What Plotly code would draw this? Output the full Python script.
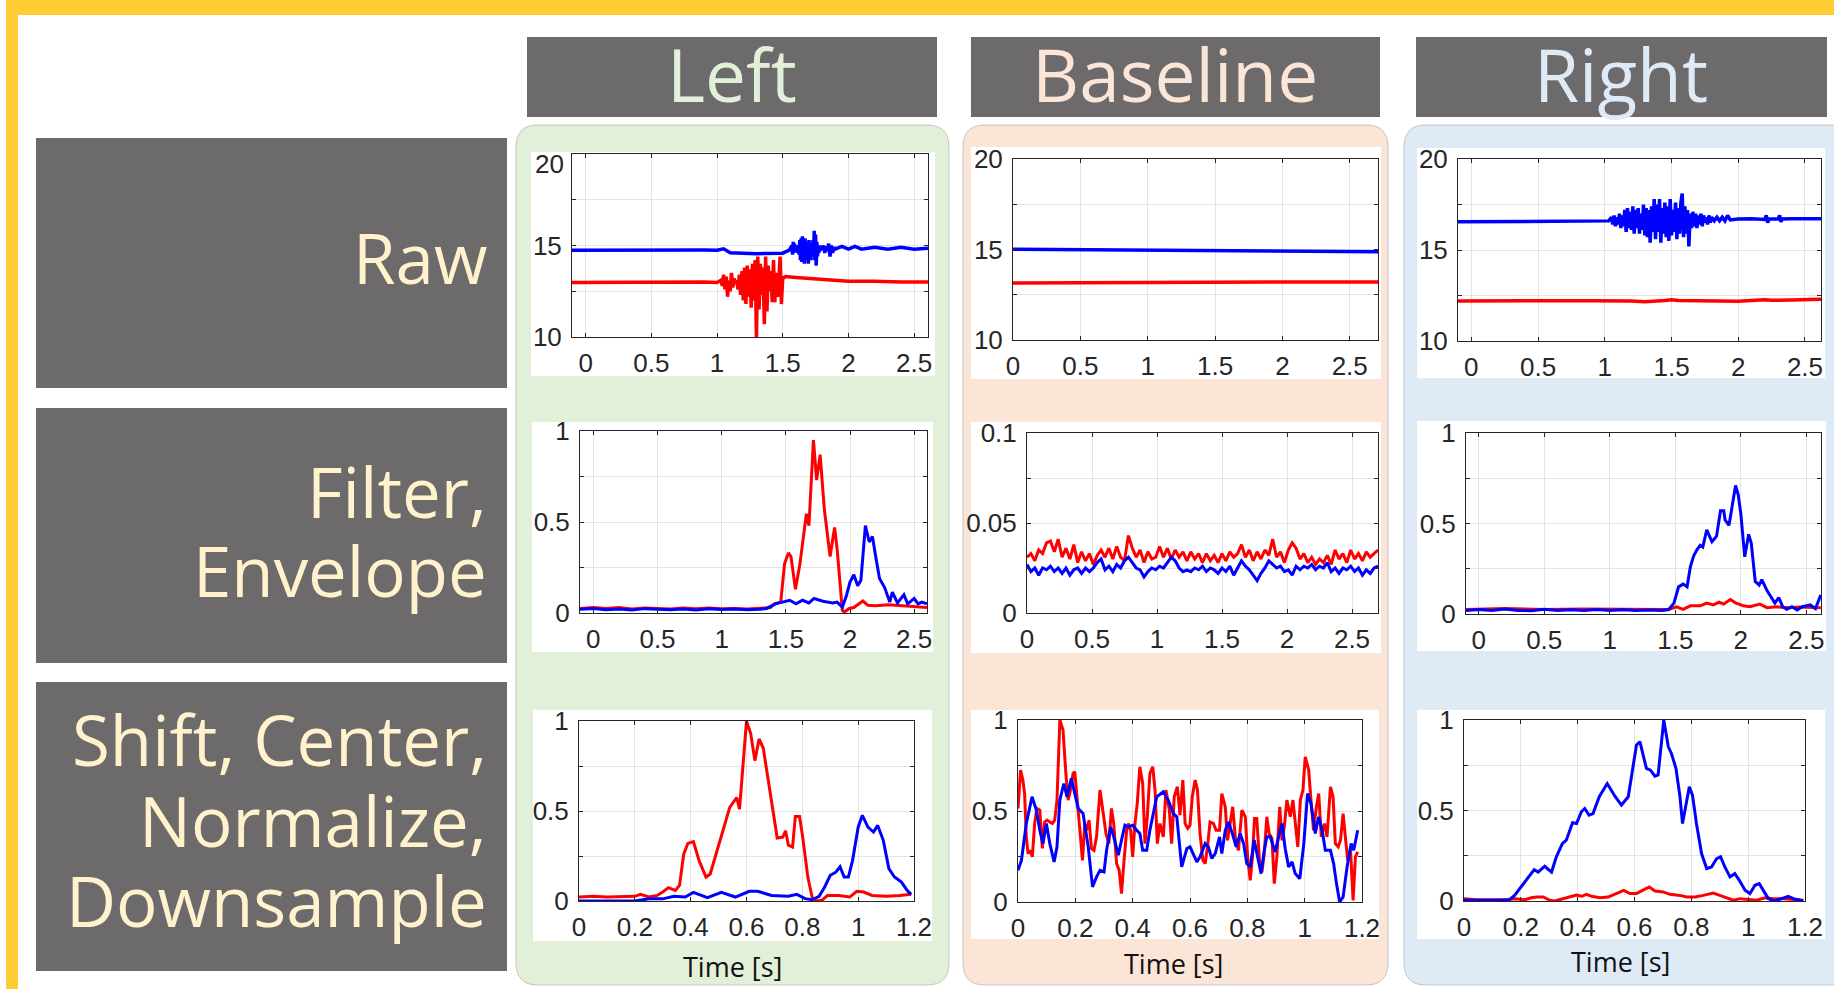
import plotly.graph_objects as go

W, H = 1834, 989

# ---------------- DATA ----------------
col_titles = ["Left", "Baseline", "Right"]
row_lines = [["Raw"], ["Filter,", "Envelope"], ["Shift, Center,", "Normalize,", "Downsample"]]
time_label = "Time [s]"

# Raw - Left
raw_L_blue_t = [-0.104, 0.3, 0.6, 0.9, 1.0, 1.05, 1.1, 1.3, 1.5, 1.55,
                1.57, 1.575, 1.58, 1.585, 1.59, 1.595, 1.6, 1.605, 1.61, 1.615,
                1.62, 1.625, 1.63, 1.635, 1.64, 1.645, 1.65, 1.655, 1.66, 1.665,
                1.67, 1.675, 1.68, 1.685, 1.69, 1.695, 1.7, 1.705, 1.71, 1.715,
                1.72, 1.725, 1.73, 1.735, 1.74, 1.745, 1.75, 1.755, 1.76, 1.765,
                1.77, 1.775, 1.78, 1.785, 1.79,
                1.8, 1.81, 1.82, 1.83, 1.84, 1.85, 1.86, 1.87, 1.88, 1.89, 1.9,
                1.95, 2.0, 2.05, 2.1, 2.2, 2.3, 2.4, 2.5, 2.606]
raw_L_blue_v = [14.74, 14.76, 14.74, 14.75, 14.74, 14.82, 14.6, 14.55, 14.58, 14.75,
                15.0, 14.5, 15.2, 14.6, 15.1, 14.7, 15.0, 14.8, 14.9, 14.6,
                15.0, 14.5, 15.3, 14.2, 15.4, 14.1, 15.5, 14.3, 15.3, 14.0,
                15.4, 14.2, 15.2, 14.4, 15.1, 14.0, 15.3, 14.3, 15.0, 14.2,
                15.1, 14.4, 15.3, 14.5, 15.8, 14.2, 15.6, 13.9, 15.2, 14.4,
                15.0, 14.6, 15.0, 14.7, 14.9,
                14.8, 15.0, 14.6, 14.95, 14.7, 15.1, 14.4, 15.0, 14.6, 14.9, 14.8,
                14.95, 14.8, 14.95, 14.8, 14.9, 14.8, 14.9, 14.8, 14.85]
raw_L_red_t = [-0.104, 0.3, 0.6, 0.9, 1.0,
               1.03, 1.04, 1.05, 1.06, 1.07, 1.08, 1.09, 1.10, 1.11, 1.12,
               1.13, 1.14, 1.15, 1.16, 1.17, 1.18, 1.19, 1.20, 1.21, 1.22,
               1.23, 1.24, 1.25, 1.26, 1.27, 1.28, 1.29, 1.30, 1.31, 1.32,
               1.33, 1.34, 1.35, 1.36, 1.37, 1.38, 1.39, 1.40, 1.41, 1.42,
               1.43, 1.44, 1.45, 1.46, 1.47, 1.48, 1.49, 1.50,
               1.52, 1.6, 1.7, 1.8, 1.9, 2.0, 2.2, 2.4, 2.606]
raw_L_red_v = [12.98, 13.0, 12.97, 13.0, 12.98,
               13.1, 12.8, 13.4, 12.6, 13.3, 12.2, 13.1, 12.5, 13.5, 12.7,
               13.2, 12.9, 13.1, 12.6, 13.4, 12.3, 13.6, 12.0, 13.8, 11.8,
               13.9, 12.2, 13.7, 11.6, 14.0, 12.0, 14.2, 10.0, 14.4, 11.5,
               14.0, 12.3, 13.8, 10.7, 14.4, 11.4, 13.9, 12.5, 13.6, 11.9,
               14.2, 11.9, 13.5, 12.2, 13.0, 14.4, 11.8, 13.2,
               13.3, 13.25, 13.2, 13.18, 13.1, 13.05, 13.05, 13.0, 13.0]

# Raw - Baseline
raw_B_t = [0.0, 0.5, 1.0, 1.5, 2.0, 2.5, 2.71]
raw_B_blue_v = [15.02, 15.0, 14.95, 14.92, 14.9, 14.88, 14.87]
raw_B_red_v = [13.15, 13.17, 13.18, 13.2, 13.2, 13.2, 13.2]

# Raw - Right
raw_R_blue_t = [-0.1, 0.3, 0.6, 0.9, 1.0,
                1.03, 1.04, 1.05, 1.06, 1.07, 1.08, 1.09, 1.10, 1.11, 1.12,
                1.13, 1.14, 1.15, 1.16, 1.17, 1.18, 1.19, 1.20, 1.21, 1.22,
                1.23, 1.24, 1.25, 1.26, 1.27, 1.28, 1.29, 1.30, 1.31, 1.32,
                1.33, 1.34, 1.35, 1.36, 1.37, 1.38, 1.39, 1.40, 1.41, 1.42,
                1.43, 1.44, 1.45, 1.46, 1.47, 1.48, 1.49, 1.50, 1.51, 1.52,
                1.53, 1.54, 1.55, 1.56, 1.57, 1.58, 1.59, 1.60, 1.61, 1.62,
                1.63, 1.64, 1.65, 1.66, 1.67, 1.68, 1.69, 1.70, 1.71, 1.72,
                1.73, 1.74, 1.75, 1.76, 1.77, 1.78, 1.79, 1.80,
                1.82, 1.84, 1.86, 1.88, 1.90, 1.92, 1.94,
                2.0, 2.1, 2.2, 2.21, 2.22, 2.23, 2.3, 2.31, 2.32, 2.33, 2.4, 2.5, 2.62]
raw_R_blue_v = [16.55, 16.57, 16.58, 16.6, 16.6,
                16.6, 16.7, 16.8, 16.4, 16.9, 16.3, 16.8, 16.4, 17.0, 16.2,
                16.9, 16.3, 17.2, 16.0, 17.3, 16.2, 17.1, 16.1, 17.4, 15.9,
                17.2, 16.2, 17.3, 15.9, 17.0, 16.1, 17.5, 15.8, 17.3, 15.7,
                17.2, 15.4, 17.4, 16.0, 17.8, 15.6, 17.5, 16.0, 17.8, 15.4,
                17.3, 15.9, 17.6, 15.7, 17.4, 15.5, 17.8, 15.8, 17.2, 16.0,
                17.6, 15.6, 17.3, 15.9, 17.6, 18.1, 15.7, 17.4, 15.9, 17.2,
                15.2, 17.0, 16.2, 17.1, 16.3, 17.0, 16.2, 16.9, 16.4, 17.0,
                16.3, 16.9, 16.5, 16.8, 16.4, 16.9, 16.5, 16.8,
                16.6, 16.8, 16.6, 16.8, 16.6, 16.9, 16.65,
                16.7, 16.72, 16.68, 16.9, 16.5, 16.7, 16.72, 16.9, 16.55, 16.7, 16.72, 16.7, 16.72]
raw_R_red_t = [-0.1, 0.3, 0.6, 0.9, 1.2, 1.3, 1.45, 1.5, 1.55, 1.8, 2.0, 2.2, 2.25, 2.4, 2.5, 2.62]
raw_R_red_v = [12.2, 12.22, 12.2, 12.21, 12.2, 12.15, 12.22, 12.27, 12.22, 12.2, 12.18, 12.27, 12.24, 12.25, 12.28, 12.3]

# Filter/Envelope - Left
env_L_red_t = [-0.104, 0.0, 0.1, 0.2, 0.3, 0.4, 0.5, 0.6, 0.7, 0.8, 0.9, 1.0, 1.1, 1.2, 1.3, 1.38,
               1.41, 1.46, 1.49, 1.52, 1.54, 1.575, 1.61, 1.66, 1.68, 1.715, 1.74, 1.767,
               1.80, 1.83, 1.845, 1.86, 1.88, 1.90, 1.94, 1.955, 1.995, 2.03, 2.10, 2.14,
               2.2, 2.3, 2.4, 2.5, 2.6]
env_L_red_v = [0.025, 0.03, 0.025, 0.03, 0.022, 0.028, 0.025, 0.022, 0.027, 0.024, 0.028, 0.023, 0.025, 0.022, 0.026, 0.03,
               0.05, 0.06, 0.27, 0.33, 0.31, 0.13, 0.27, 0.545, 0.48, 0.95, 0.73, 0.87,
               0.57, 0.38, 0.31, 0.38, 0.47, 0.35, 0.015, 0.005, 0.025, 0.03, 0.066, 0.042,
               0.04, 0.045, 0.04, 0.035, 0.03]
env_L_blue_t = [-0.104, 0.0, 0.1, 0.2, 0.3, 0.4, 0.5, 0.6, 0.7, 0.8, 0.9, 1.0, 1.1, 1.2, 1.3, 1.35,
                1.42, 1.53, 1.58, 1.63, 1.68, 1.72, 1.79, 1.865, 1.90, 1.94, 1.97, 2.0,
                2.03, 2.06, 2.085, 2.12, 2.15, 2.175, 2.20, 2.23, 2.27, 2.31, 2.33, 2.37,
                2.42, 2.45, 2.5, 2.53, 2.56, 2.6]
env_L_blue_v = [0.02, 0.025, 0.018, 0.022, 0.016, 0.024, 0.02, 0.018, 0.022, 0.017, 0.023, 0.019, 0.022, 0.018, 0.02, 0.025,
                0.05, 0.07, 0.05, 0.07, 0.055, 0.08, 0.065, 0.055, 0.06, 0.033, 0.09, 0.17,
                0.21, 0.15, 0.18, 0.48, 0.39, 0.42, 0.31, 0.19, 0.14, 0.06, 0.115, 0.055,
                0.10, 0.05, 0.08, 0.05, 0.06, 0.05]

# Filter/Envelope - Baseline
env_B_t = [0.00, 0.03, 0.06, 0.09, 0.12, 0.15, 0.18, 0.21, 0.24, 0.27,
           0.30, 0.33, 0.36, 0.39, 0.42, 0.45, 0.48, 0.51, 0.54, 0.57,
           0.60, 0.63, 0.66, 0.69, 0.72, 0.75, 0.78, 0.81, 0.84, 0.87,
           0.90, 0.93, 0.96, 0.99, 1.02, 1.05, 1.08, 1.11, 1.14, 1.17,
           1.20, 1.23, 1.26, 1.29, 1.32, 1.35, 1.38, 1.41, 1.44, 1.47,
           1.50, 1.53, 1.56, 1.59, 1.62, 1.65, 1.68, 1.71, 1.74, 1.77,
           1.80, 1.83, 1.86, 1.89, 1.92, 1.95, 1.98, 2.01, 2.04, 2.07,
           2.10, 2.13, 2.16, 2.19, 2.22, 2.25, 2.28, 2.31, 2.34, 2.37,
           2.40, 2.43, 2.46, 2.49, 2.52, 2.55, 2.58, 2.61, 2.64, 2.67, 2.70]
env_B_red_v = [0.031, 0.033, 0.029, 0.035, 0.033, 0.039, 0.040, 0.034, 0.041, 0.031,
               0.036, 0.030, 0.038, 0.028, 0.034, 0.029, 0.033, 0.027, 0.032, 0.035,
               0.031, 0.036, 0.030, 0.037, 0.031, 0.029, 0.043, 0.036, 0.031, 0.035,
               0.028, 0.034, 0.030, 0.031, 0.037, 0.031, 0.036, 0.030, 0.035, 0.031,
               0.034, 0.029, 0.034, 0.030, 0.033, 0.028, 0.033, 0.029, 0.032, 0.028,
               0.033, 0.029, 0.034, 0.031, 0.033, 0.038, 0.031, 0.035, 0.029, 0.034,
               0.030, 0.035, 0.032, 0.041, 0.031, 0.034, 0.028, 0.035, 0.039, 0.036,
               0.030, 0.033, 0.028, 0.031, 0.027, 0.030, 0.028, 0.032, 0.027, 0.035,
               0.030, 0.033, 0.028, 0.035, 0.030, 0.033, 0.029, 0.034, 0.031, 0.033, 0.035]
env_B_blue_v = [0.027, 0.023, 0.025, 0.021, 0.025, 0.024, 0.026, 0.023, 0.025, 0.022,
                0.025, 0.021, 0.024, 0.025, 0.022, 0.025, 0.023, 0.025, 0.028, 0.030,
                0.024, 0.026, 0.023, 0.027, 0.025, 0.029, 0.031, 0.028, 0.025, 0.024,
                0.020, 0.023, 0.025, 0.024, 0.026, 0.025, 0.028, 0.031, 0.029, 0.025,
                0.023, 0.024, 0.023, 0.025, 0.024, 0.026, 0.023, 0.025, 0.024, 0.022,
                0.025, 0.023, 0.026, 0.021, 0.025, 0.029, 0.026, 0.024, 0.021, 0.018,
                0.022, 0.025, 0.029, 0.027, 0.025, 0.026, 0.023, 0.024, 0.021, 0.026,
                0.024, 0.026, 0.025, 0.027, 0.024, 0.026, 0.025, 0.028, 0.023, 0.025,
                0.022, 0.025, 0.024, 0.026, 0.023, 0.025, 0.021, 0.024, 0.022, 0.025, 0.026]

# Filter/Envelope - Right
env_R_blue_t = [-0.097, 0.0, 0.1, 0.2, 0.3, 0.4, 0.5, 0.6, 0.7, 0.8, 0.9, 1.0, 1.1, 1.2, 1.3, 1.4, 1.45,
                1.49, 1.525, 1.56, 1.59, 1.615, 1.64, 1.665, 1.69, 1.71, 1.74, 1.78, 1.815,
                1.845, 1.87, 1.88, 1.91, 1.93, 1.96, 1.98, 2.0, 2.03, 2.06, 2.08, 2.11,
                2.14, 2.16, 2.20, 2.24, 2.26, 2.29, 2.32, 2.35, 2.39, 2.43, 2.47, 2.53, 2.57, 2.61]
env_R_blue_v = [0.02, 0.025, 0.02, 0.028, 0.02, 0.018, 0.026, 0.02, 0.024, 0.02, 0.025, 0.019, 0.023, 0.02, 0.022, 0.02, 0.025,
                0.06, 0.15, 0.165, 0.15, 0.26, 0.32, 0.355, 0.38, 0.37, 0.465, 0.40, 0.43,
                0.57, 0.57, 0.52, 0.49, 0.57, 0.71, 0.66, 0.555, 0.316, 0.44, 0.39, 0.18,
                0.16, 0.19, 0.13, 0.086, 0.06, 0.09, 0.04, 0.026, 0.04, 0.022, 0.04, 0.05, 0.03, 0.105]
env_R_red_t = [-0.097, 0.2, 0.5, 0.8, 1.1, 1.45, 1.51, 1.56, 1.615, 1.69, 1.74, 1.79, 1.835, 1.87,
               1.92, 1.96, 2.02, 2.07, 2.145, 2.20, 2.27, 2.37, 2.45, 2.61]
env_R_red_v = [0.025, 0.03, 0.025, 0.028, 0.026, 0.025, 0.04, 0.026, 0.045, 0.045, 0.06, 0.05, 0.065, 0.055,
               0.08, 0.062, 0.045, 0.04, 0.055, 0.035, 0.04, 0.035, 0.038, 0.035]

# Shift/Center/Normalize/Downsample - Left
norm_L_red_t = [0.0, 0.05, 0.1, 0.15, 0.2, 0.22, 0.25, 0.28, 0.30, 0.32, 0.345, 0.36, 0.375, 0.39,
                0.41, 0.43, 0.455, 0.47, 0.51, 0.54, 0.565, 0.575, 0.60, 0.615, 0.63, 0.645, 0.66,
                0.69, 0.71, 0.73, 0.74, 0.75, 0.765, 0.775, 0.79, 0.80, 0.82, 0.835, 0.85, 0.87,
                0.89, 0.93, 0.97, 0.995, 1.02, 1.05, 1.1, 1.15, 1.19]
norm_L_red_v = [0.022, 0.026, 0.022, 0.026, 0.026, 0.037, 0.022, 0.031, 0.05, 0.074, 0.059, 0.087, 0.26, 0.32,
                0.33, 0.225, 0.133, 0.15, 0.365, 0.52, 0.575, 0.51, 1.0, 0.93, 0.78, 0.90, 0.85,
                0.56, 0.35, 0.355, 0.39, 0.31, 0.30, 0.47, 0.47, 0.37, 0.13, 0.022, 0.0, 0.004,
                0.03, 0.03, 0.022, 0.054, 0.05, 0.031, 0.026, 0.031, 0.037]
norm_L_blue_t = [0.0, 0.1, 0.2, 0.25, 0.3, 0.34, 0.38, 0.41, 0.46, 0.51, 0.56, 0.61, 0.64, 0.69,
                 0.75, 0.78, 0.81, 0.835, 0.86, 0.88, 0.9, 0.92, 0.935, 0.95, 0.965, 0.98, 1.0,
                 1.015, 1.035, 1.055, 1.07, 1.09, 1.11, 1.13, 1.155, 1.175, 1.19]
norm_L_blue_v = [0.0, 0.0, 0.0, 0.012, 0.012, 0.026, 0.022, 0.048, 0.018, 0.048, 0.022, 0.054, 0.054, 0.031,
                 0.026, 0.037, 0.013, 0.007, 0.026, 0.078, 0.143, 0.16, 0.19, 0.133, 0.133, 0.226, 0.41,
                 0.476, 0.41, 0.383, 0.42, 0.337, 0.18, 0.133, 0.105, 0.06, 0.037]

# Shift/Center/Normalize/Downsample - Baseline
norm_B_red_t = [0.000, 0.009, 0.017, 0.023, 0.029, 0.035, 0.043, 0.050, 0.058, 0.066,
                0.076, 0.085, 0.093, 0.101, 0.111, 0.120, 0.128, 0.136, 0.146, 0.157,
                0.167, 0.175, 0.183, 0.192, 0.198, 0.206, 0.216, 0.225, 0.233, 0.239,
                0.248, 0.256, 0.265, 0.274, 0.286, 0.295, 0.307, 0.317, 0.326, 0.334,
                0.344, 0.353, 0.361, 0.369, 0.379, 0.385, 0.393, 0.400, 0.408, 0.416,
                0.425, 0.435, 0.443, 0.451, 0.460, 0.470, 0.478, 0.486, 0.495, 0.507,
                0.516, 0.528, 0.536, 0.545, 0.556, 0.565, 0.575, 0.583, 0.592, 0.600,
                0.608, 0.618, 0.626, 0.635, 0.645, 0.653, 0.661, 0.670, 0.682, 0.691,
                0.703, 0.711, 0.723, 0.731, 0.740, 0.749, 0.759, 0.769, 0.781, 0.793,
                0.801, 0.810, 0.818, 0.825, 0.833, 0.843, 0.851, 0.859, 0.868, 0.876,
                0.886, 0.894, 0.903, 0.913, 0.921, 0.929, 0.938, 0.950, 0.959, 0.967,
                0.976, 0.985, 0.994, 1.002, 1.014, 1.022, 1.031, 1.041, 1.049, 1.058,
                1.069, 1.078, 1.090, 1.099, 1.107, 1.117, 1.125, 1.134, 1.142, 1.150,
                1.160, 1.169, 1.177, 1.185]
norm_B_red_v = [0.514, 0.725, 0.670, 0.596, 0.358, 0.266, 0.284, 0.248, 0.431, 0.514,
                0.505, 0.294, 0.440, 0.450, 0.440, 0.431, 0.450, 0.560, 1.000, 0.945,
                0.706, 0.560, 0.615, 0.706, 0.716, 0.560, 0.394, 0.229, 0.431, 0.394,
                0.450, 0.294, 0.284, 0.358, 0.615, 0.523, 0.376, 0.321, 0.514, 0.431,
                0.211, 0.174, 0.046, 0.211, 0.394, 0.431, 0.394, 0.248, 0.431, 0.541,
                0.743, 0.651, 0.321, 0.468, 0.706, 0.743, 0.615, 0.321, 0.431, 0.358,
                0.615, 0.505, 0.321, 0.578, 0.633, 0.477, 0.670, 0.431, 0.404, 0.422,
                0.578, 0.670, 0.615, 0.376, 0.229, 0.211, 0.303, 0.440, 0.431, 0.394,
                0.394, 0.596, 0.523, 0.339, 0.431, 0.523, 0.339, 0.284, 0.505, 0.468,
                0.248, 0.119, 0.248, 0.459, 0.459, 0.211, 0.165, 0.266, 0.468, 0.376,
                0.349, 0.101, 0.248, 0.523, 0.339, 0.413, 0.560, 0.468, 0.560, 0.431,
                0.303, 0.560, 0.615, 0.798, 0.725, 0.560, 0.394, 0.523, 0.596, 0.358,
                0.431, 0.358, 0.633, 0.578, 0.321, 0.303, 0.339, 0.486, 0.358, 0.229,
                0.284, 0.009, 0.248, 0.275]
norm_B_blue_t = [0.000, 0.012, 0.029, 0.049, 0.064, 0.076, 0.087, 0.099, 0.111, 0.126,
                 0.136, 0.146, 0.160, 0.171, 0.186, 0.198, 0.210, 0.227, 0.245, 0.260,
                 0.274, 0.286, 0.300, 0.309, 0.323, 0.334, 0.350, 0.361, 0.373, 0.385,
                 0.400, 0.414, 0.425, 0.435, 0.449, 0.460, 0.484, 0.507, 0.524, 0.542,
                 0.554, 0.571, 0.589, 0.600, 0.624, 0.635, 0.653, 0.664, 0.676, 0.688,
                 0.703, 0.711, 0.723, 0.734, 0.746, 0.761, 0.775, 0.787, 0.798, 0.810,
                 0.824, 0.836, 0.848, 0.859, 0.868, 0.880, 0.897, 0.909, 0.921, 0.932,
                 0.944, 0.956, 0.967, 0.983, 0.997, 1.010, 1.022, 1.037, 1.049, 1.061,
                 1.072, 1.090, 1.101, 1.111, 1.122, 1.134, 1.148, 1.162, 1.171, 1.185]
norm_B_blue_v = [0.174, 0.229, 0.431, 0.578, 0.505, 0.394, 0.321, 0.431, 0.321, 0.220,
                 0.303, 0.560, 0.651, 0.578, 0.679, 0.596, 0.514, 0.486, 0.303, 0.083,
                 0.138, 0.174, 0.165, 0.284, 0.413, 0.358, 0.257, 0.339, 0.422, 0.413,
                 0.422, 0.394, 0.376, 0.284, 0.284, 0.394, 0.578, 0.606, 0.560, 0.486,
                 0.468, 0.193, 0.294, 0.303, 0.220, 0.248, 0.321, 0.303, 0.239, 0.266,
                 0.358, 0.266, 0.394, 0.440, 0.385, 0.303, 0.376, 0.321, 0.211, 0.193,
                 0.339, 0.248, 0.156, 0.284, 0.358, 0.358, 0.275, 0.358, 0.431, 0.294,
                 0.193, 0.220, 0.156, 0.128, 0.321, 0.596, 0.541, 0.376, 0.468, 0.394,
                 0.284, 0.284, 0.211, 0.101, 0.000, 0.028, 0.193, 0.321, 0.284, 0.394]

# Shift/Center/Normalize/Downsample - Right
norm_R_blue_t = [0.0, 0.043, 0.085, 0.126, 0.16, 0.178, 0.196, 0.214, 0.231, 0.247, 0.261, 0.284,
                 0.308, 0.325, 0.346, 0.36, 0.382, 0.396, 0.413, 0.425, 0.44, 0.454, 0.476,
                 0.504, 0.531, 0.554, 0.578, 0.607, 0.619, 0.642, 0.656, 0.672, 0.683, 0.703,
                 0.719, 0.73, 0.746, 0.76, 0.769, 0.781, 0.793, 0.804, 0.818, 0.836, 0.854,
                 0.871, 0.889, 0.903, 0.918, 0.936, 0.953, 0.969, 0.989, 1.006, 1.024, 1.039,
                 1.053, 1.071, 1.094, 1.118, 1.141, 1.159, 1.194]
norm_R_blue_v = [0.004, 0.004, 0.0, 0.004, 0.007, 0.031, 0.068, 0.105, 0.137, 0.173, 0.16, 0.192,
                 0.16, 0.244, 0.317, 0.336, 0.432, 0.428, 0.493, 0.511, 0.474, 0.483, 0.576,
                 0.649, 0.579, 0.53, 0.576, 0.862, 0.88, 0.732, 0.723, 0.69, 0.696, 1.0,
                 0.852, 0.815, 0.732, 0.576, 0.428, 0.53, 0.631, 0.585, 0.428, 0.262, 0.179,
                 0.188, 0.234, 0.244, 0.188, 0.133, 0.151, 0.114, 0.059, 0.041, 0.087, 0.096,
                 0.059, 0.013, 0.0, 0.013, 0.026, 0.013, 0.0]
norm_R_red_t = [0.0, 0.043, 0.102, 0.149, 0.178, 0.214, 0.237, 0.255, 0.279, 0.302, 0.319, 0.349,
                0.378, 0.396, 0.414, 0.431, 0.449, 0.478, 0.507, 0.537, 0.562, 0.584, 0.607,
                0.628, 0.652, 0.672, 0.701, 0.725, 0.76, 0.784, 0.813, 0.842, 0.877, 0.9,
                0.93, 0.948, 0.971, 1.0, 1.03, 1.06, 1.089, 1.124, 1.159, 1.194]
norm_R_red_v = [0.013, 0.007, 0.007, 0.007, 0.013, 0.007, 0.018, 0.022, 0.022, 0.004, 0.0, 0.013,
                0.022, 0.033, 0.026, 0.037, 0.026, 0.018, 0.022, 0.041, 0.059, 0.041, 0.041,
                0.059, 0.077, 0.055, 0.05, 0.037, 0.031, 0.022, 0.022, 0.031, 0.044, 0.031,
                0.013, 0.004, 0.013, 0.007, 0.004, 0.018, 0.013, 0.013, 0.007, 0.004]

# axis tick definitions
x_ticks_long = [0, 0.5, 1, 1.5, 2, 2.5]
x_ticks_long_text = ["0", "0.5", "1", "1.5", "2", "2.5"]
x_ticks_short = [0, 0.2, 0.4, 0.6, 0.8, 1.0, 1.2]
x_ticks_short_text = ["0", "0.2", "0.4", "0.6", "0.8", "1", "1.2"]
y_ticks_raw = [10, 12.5, 15, 17.5, 20]
y_ticks_raw_text = ["10", "", "15", "", "20"]
y_ticks_unit = [0, 0.25, 0.5, 0.75, 1]
y_ticks_unit_text = ["0", "", "0.5", "", "1"]
y_ticks_small = [0, 0.025, 0.05, 0.075, 0.1]
y_ticks_small_text = ["0", "", "0.05", "", "0.1"]

# ---------------- LAYOUT HELPERS ----------------
def PX(x):
    return x / W

def PY(y):
    return 1 - y / H

RED = "#ff0000"
BLUE = "#0000ff"
YELLOW = "#ffcc33"
GRAY = "#6c6a6a"
CREAM = "#fff2cc"
PANEL_FILL = ["#e2f0d9", "#fbe5d6", "#deebf7"]
TITLE_COL = ["#e2f0d9", "#fbe5d6", "#deebf7"]

boxes = [
    [(572, 928, 154, 337), (1013, 1378, 159, 340), (1458, 1821, 159, 341)],
    [(580, 927, 431, 613), (1027, 1378, 433, 613), (1466, 1821, 433, 614)],
    [(579, 914, 721, 901), (1018, 1362, 720, 902), (1464, 1805, 720, 901)],
]
white_boxes = [
    [(531, 935, 152, 376), (971, 1381, 147, 379), (1417, 1825, 148, 378)],
    [(532, 933, 422, 652), (971, 1381, 422, 653), (1417, 1826, 421, 651)],
    [(533, 932, 710, 941), (971, 1379, 710, 939), (1417, 1825, 710, 939)],
]
x_ranges = [
    [[-0.104, 2.606], [0, 2.71], [-0.1, 2.62]],
    [[-0.104, 2.6], [0, 2.70], [-0.097, 2.612]],
    [[0, 1.2], [0, 1.2], [0, 1.2]],
]
y_ranges = [
    [[10, 20], [10, 20], [10, 20]],
    [[0, 1], [0, 0.1], [0, 1]],
    [[0, 1], [0, 1], [0, 1]],
]

series = [
    [((raw_L_red_t, raw_L_red_v), (raw_L_blue_t, raw_L_blue_v)),
     ((raw_B_t, raw_B_red_v), (raw_B_t, raw_B_blue_v)),
     ((raw_R_red_t, raw_R_red_v), (raw_R_blue_t, raw_R_blue_v))],
    [((env_L_red_t, env_L_red_v), (env_L_blue_t, env_L_blue_v)),
     ((env_B_t, env_B_red_v), (env_B_t, env_B_blue_v)),
     ((env_R_red_t, env_R_red_v), (env_R_blue_t, env_R_blue_v))],
    [((norm_L_red_t, norm_L_red_v), (norm_L_blue_t, norm_L_blue_v)),
     ((norm_B_red_t, norm_B_red_v), (norm_B_blue_t, norm_B_blue_v)),
     ((norm_R_red_t, norm_R_red_v), (norm_R_blue_t, norm_R_blue_v))],
]

fig = go.Figure()
layout_axes = {}
TICKFONT = dict(family="Liberation Sans, Arial, sans-serif", size=26, color="#262626")

k = 0
for r in range(3):
    for c in range(3):
        k += 1
        xn = "x" if k == 1 else f"x{k}"
        yn = "y" if k == 1 else f"y{k}"
        (rt, rv), (bt, bv) = series[r][c]
        lw = 3.5 if r == 0 else 3
        fig.add_trace(go.Scatter(x=rt, y=rv, mode="lines", line=dict(color=RED, width=lw),
                                 xaxis=xn, yaxis=yn, hoverinfo="skip"))
        fig.add_trace(go.Scatter(x=bt, y=bv, mode="lines", line=dict(color=BLUE, width=lw),
                                 xaxis=xn, yaxis=yn, hoverinfo="skip"))
        x0, x1, y0, y1 = boxes[r][c]
        if r == 2:
            xt, xtt = x_ticks_short, x_ticks_short_text
        else:
            xt, xtt = x_ticks_long, x_ticks_long_text
        if r == 0:
            yt, ytt = y_ticks_raw, list(y_ticks_raw_text)
            if c == 0:
                ytt[-1] = ""   # drawn below as a separate label, slightly lower like the source
        elif r == 1 and c == 1:
            yt, ytt = y_ticks_small, y_ticks_small_text
        else:
            yt, ytt = y_ticks_unit, y_ticks_unit_text
        axis_common = dict(showline=True, linecolor="#262626", linewidth=1, mirror="ticks",
                           ticks="inside", ticklen=4, tickcolor="#262626", tickwidth=1,
                           showgrid=True, gridcolor="#e3e3e3", gridwidth=1, zeroline=False,
                           tickfont=TICKFONT, fixedrange=True, automargin=False)
        layout_axes["xaxis" if k == 1 else f"xaxis{k}"] = dict(
            domain=[PX(x0), PX(x1)], anchor=yn, range=x_ranges[r][c],
            tickmode="array", tickvals=xt, ticktext=xtt, ticklabelstandoff=3, **axis_common)
        layout_axes["yaxis" if k == 1 else f"yaxis{k}"] = dict(
            domain=[PY(y1), PY(y0)], anchor=xn, range=y_ranges[r][c],
            tickmode="array", tickvals=yt, ticktext=ytt, ticklabelstandoff=4, **axis_common)


def rrect(x0, x1, y0, y1, rad):
    p = lambda x, y: f"{PX(x):.6f},{PY(y):.6f}"
    return (f"M {p(x0 + rad, y0)} L {p(x1 - rad, y0)} Q {p(x1, y0)} {p(x1, y0 + rad)} "
            f"L {p(x1, y1 - rad)} Q {p(x1, y1)} {p(x1 - rad, y1)} "
            f"L {p(x0 + rad, y1)} Q {p(x0, y1)} {p(x0, y1 - rad)} "
            f"L {p(x0, y0 + rad)} Q {p(x0, y0)} {p(x0 + rad, y0)} Z")


def rect(x0, x1, y0, y1, fill, line=None):
    return dict(type="rect", xref="paper", yref="paper", x0=PX(x0), x1=PX(x1),
                y0=PY(y1), y1=PY(y0), fillcolor=fill,
                line=dict(width=0) if line is None else line, layer="below")

shapes = []
shapes.append(rect(6, 1834, 0, 15, YELLOW))
shapes.append(rect(6, 18, 0, 989, YELLOW))
header_boxes = [(527, 937), (971, 1380), (1416, 1827)]
for (a, b) in header_boxes:
    shapes.append(rect(a, b, 37, 117, GRAY))
row_boxes = [(138, 388), (408, 663), (682, 971)]
for (a, b) in row_boxes:
    shapes.append(rect(36, 507, a, b, GRAY))
panels = [(516, 949), (963, 1388), (1404, 1860)]
for i, (a, b) in enumerate(panels):
    shapes.append(dict(type="path", xref="paper", yref="paper", path=rrect(a, b, 125, 985, 22),
                       fillcolor=PANEL_FILL[i], line=dict(color="#c4c4c4", width=1), layer="below"))
for r in range(3):
    for c in range(3):
        x0, x1, y0, y1 = white_boxes[r][c]
        shapes.append(rect(x0, x1, y0, y1, "#ffffff"))

annotations = []
title_centers = [732, 1175, 1621]
for i, t in enumerate(col_titles):
    annotations.append(dict(text=t, x=PX(title_centers[i]), y=PY(74), xref="paper", yref="paper",
                            xanchor="center", yanchor="middle", showarrow=False,
                            font=dict(family="Open Sans, sans-serif", size=73, color=TITLE_COL[i])))
row_line_y = [[257], [491, 570], [739, 820, 900]]
for r in range(3):
    for j, line in enumerate(row_lines[r]):
        annotations.append(dict(text=line, x=PX(489), y=PY(row_line_y[r][j]), xref="paper", yref="paper",
                                xanchor="right", yanchor="middle", showarrow=False,
                                font=dict(family="Open Sans, sans-serif", size=69, color=CREAM)))
time_pos = [(732, 966), (1173, 963), (1620, 961)]
for (tx, ty) in time_pos:
    annotations.append(dict(text=time_label, x=PX(tx), y=PY(ty), xref="paper", yref="paper",
                            xanchor="center", yanchor="middle", showarrow=False,
                            font=dict(family="Open Sans, sans-serif", size=27, color="#111111")))
# top label of the Left raw panel (sits a little below its tick in the source)
annotations.append(dict(text=y_ticks_raw_text[-1], x=PX(566), y=PY(164), xref="paper", yref="paper",
                        xanchor="right", yanchor="middle", showarrow=False, font=TICKFONT))

fig.update_layout(width=W, height=H,
                  margin=dict(l=0, r=0, t=0, b=0, pad=0, autoexpand=False),
                  paper_bgcolor="#ffffff", plot_bgcolor="rgba(0,0,0,0)",
                  showlegend=False, shapes=shapes, annotations=annotations, **layout_axes)

fig.write_html("out.html", config={"displayModeBar": False, "staticPlot": True},
               post_script="document.body.style.margin='0';document.body.style.padding='0';"
                           "document.body.style.overflow='hidden';")
